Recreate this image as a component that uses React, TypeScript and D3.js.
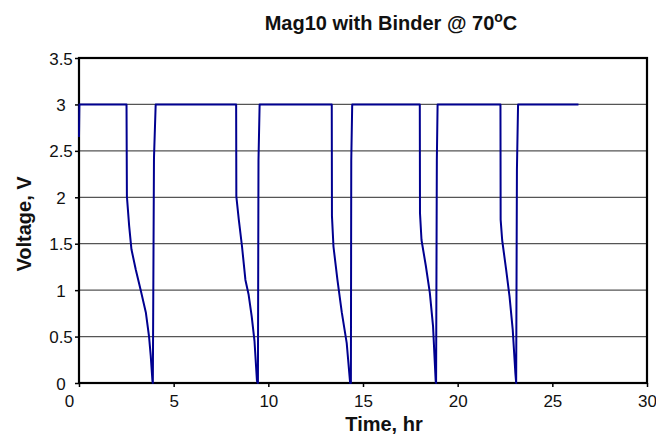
import React, { useEffect, useRef } from "react";
import * as d3 from "d3";

// time (hr) and voltage (V)
const timeHr = [
  0, 0.02, 2.51, 2.53, 2.65, 2.77, 3.0, 3.26, 3.53, 3.7, 3.79, 3.88, 3.9, 3.96, 4.05,
  8.3, 8.31, 8.44, 8.61, 8.79, 8.96, 9.12, 9.27, 9.4, 9.45, 9.48, 9.54,
  13.35, 13.36, 13.44, 13.65, 13.88, 14.14, 14.32, 14.36, 14.38, 14.43,
  18.0, 18.01, 18.09, 18.32, 18.53, 18.7, 18.84, 18.86, 18.9, 18.94,
  22.26, 22.27, 22.35, 22.56, 22.74, 22.91, 23.05, 23.09, 23.13, 23.19,
  26.38,
];
const voltage = [
  2.65, 3.0, 3.0, 2.01, 1.69, 1.44, 1.22, 1.0, 0.76, 0.5, 0.29, 0.02, 0, 2.42, 3.0,
  3.0, 2.01, 1.76, 1.47, 1.11, 0.95, 0.72, 0.45, 0.02, 0, 2.4, 3.0,
  3.0, 1.8, 1.47, 1.11, 0.76, 0.43, 0.0, 0, 2.4, 3.0,
  3.0, 1.83, 1.54, 1.26, 0.97, 0.61, 0.02, 0, 2.4, 3.0,
  3.0, 1.76, 1.54, 1.22, 0.93, 0.57, 0.1, 0, 2.3, 3.0,
  3.0,
];
const xTicks = [0, 5, 10, 15, 20, 25, 30];
const yTicks = [0, 0.5, 1, 1.5, 2, 2.5, 3, 3.5];

const W = 656;
const H = 437;
const FONT = "'Liberation Sans', Arial, sans-serif";

const App = () => {
  const ref = useRef<SVGSVGElement>(null);

  useEffect(() => {
    const svg = d3.select(ref.current);
    svg.selectAll("*").remove();

    const left = 79;
    const right = 647;
    const top = 58;
    const bottom = 383;

    const x = d3.scaleLinear().domain([0, 30]).range([left, right]);
    const y = d3.scaleLinear().domain([0, 3.5]).range([bottom, top]);

    // grid
    svg
      .append("g")
      .selectAll("line")
      .data(yTicks.filter((d) => d > 0 && d < 3.5))
      .enter()
      .append("line")
      .attr("x1", left)
      .attr("x2", right)
      .attr("y1", (d) => y(d))
      .attr("y2", (d) => y(d))
      .attr("stroke", "#555")
      .attr("stroke-width", 1.2);

    // frame
    svg
      .append("rect")
      .attr("x", left)
      .attr("y", top)
      .attr("width", right - left)
      .attr("height", bottom - top)
      .attr("fill", "none")
      .attr("stroke", "#000")
      .attr("stroke-width", 2.2);

    // y axis
    const yAxis = svg
      .append("g")
      .attr("transform", `translate(${left},0)`)
      .call(d3.axisLeft(y).tickValues(yTicks).tickSize(4).tickFormat(d3.format("")));
    yAxis.select(".domain").remove();
    yAxis.selectAll("line").attr("stroke", "#000").attr("stroke-width", 1.5);
    yAxis
      .selectAll("text")
      .attr("x", -18)
      .attr("text-anchor", "middle")
      .attr("dy", "0.36em")
      .style("font-family", FONT)
      .style("font-size", "17px")
      .style("fill", "#111");

    // x axis
    const xAxis = svg
      .append("g")
      .attr("transform", `translate(0,${bottom})`)
      .call(d3.axisBottom(x).tickValues(xTicks).tickSize(4).tickFormat(d3.format("")));
    xAxis.select(".domain").remove();
    xAxis.selectAll("line").attr("stroke", "#000").attr("stroke-width", 1.5);
    xAxis
      .selectAll("text")
      .attr("y", 12)
      .attr("dx", (d: any) => (d === 0 ? -10 : 0))
      .style("font-family", FONT)
      .style("font-size", "17px")
      .style("fill", "#111");

    // trace
    const pts = timeHr.map((t, i) => [t, voltage[i]] as [number, number]);
    const line = d3
      .line<[number, number]>()
      .x((d) => x(d[0]))
      .y((d) => y(d[1]));
    svg
      .append("path")
      .attr("d", line(pts))
      .attr("fill", "none")
      .attr("stroke", "#000090")
      .attr("stroke-width", 2)
      .attr("stroke-linejoin", "round");

    // title
    const title = svg
      .append("text")
      .attr("x", 391)
      .attr("y", 30)
      .attr("text-anchor", "middle")
      .style("font-family", FONT)
      .style("font-size", "20px")
      .style("font-weight", "bold")
      .style("fill", "#111");
    title.append("tspan").text("Mag10 with Binder @ 70");
    title.append("tspan").attr("dy", -8).style("font-size", "14px").text("o");
    title.append("tspan").attr("dy", 8).text("C");

    // axis titles
    svg
      .append("text")
      .attr("x", 384)
      .attr("y", 431)
      .attr("text-anchor", "middle")
      .style("font-family", FONT)
      .style("font-size", "20px")
      .style("font-weight", "bold")
      .style("fill", "#111")
      .text("Time, hr");

    svg
      .append("text")
      .attr("transform", `translate(31,224) rotate(-90)`)
      .attr("text-anchor", "middle")
      .style("font-family", FONT)
      .style("font-size", "20px")
      .style("font-weight", "bold")
      .style("fill", "#111")
      .text("Voltage, V");
  }, []);

  return (
    <svg
      ref={ref}
      width={W}
      height={H}
      style={{ position: "absolute", left: 0, top: 0, background: "#fff" }}
    ></svg>
  );
};

export default App;
